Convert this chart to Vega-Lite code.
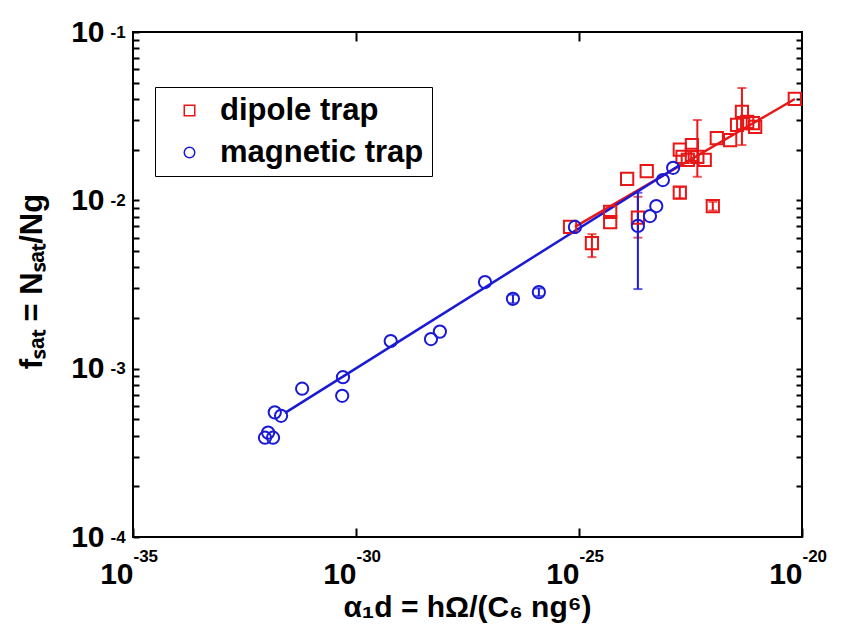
{
  "$schema": "https://vega.github.io/schema/vega-lite/v6.json",
  "width": 669,
  "height": 505,
  "autosize": "none",
  "padding": {"left": 133, "top": 32, "right": 40, "bottom": 99},
  "background": "white",
  "config": {
    "view": {"stroke": "black", "strokeWidth": 2},
    "font": "Liberation Sans",
    "axis": {
      "grid": false, "domain": false, "tickColor": "black", "tickWidth": 2,
      "labelFont": "Liberation Sans", "labelFontWeight": "bold", "labelFontSize": 30, "labelColor": "black",
      "titleFont": "Liberation Sans", "titleFontWeight": "bold", "titleFontSize": 30, "titleColor": "black",
      "labelFlush": false, "labelOverlap": false
    }
  },
  "datasets": {
    "pts": [
      {"trap": "dipole trap", "x": 6.3e-26, "y": 0.00695},
      {"trap": "dipole trap", "x": 1.95e-25, "y": 0.00557},
      {"trap": "dipole trap", "x": 5.0e-25, "y": 0.00853},
      {"trap": "dipole trap", "x": 5.0e-25, "y": 0.00743},
      {"trap": "dipole trap", "x": 1.2e-24, "y": 0.0134},
      {"trap": "dipole trap", "x": 3.3e-24, "y": 0.0149},
      {"trap": "dipole trap", "x": 2.09e-24, "y": 0.0079},
      {"trap": "dipole trap", "x": 1.82e-23, "y": 0.0111},
      {"trap": "dipole trap", "x": 1.82e-23, "y": 0.020},
      {"trap": "dipole trap", "x": 3.4e-23, "y": 0.0213},
      {"trap": "dipole trap", "x": 4.5e-23, "y": 0.0181},
      {"trap": "dipole trap", "x": 2.75e-23, "y": 0.0174},
      {"trap": "dipole trap", "x": 6.6e-23, "y": 0.0174},
      {"trap": "dipole trap", "x": 1.0e-22, "y": 0.00925},
      {"trap": "dipole trap", "x": 1.23e-22, "y": 0.0234},
      {"trap": "dipole trap", "x": 2.45e-22, "y": 0.0228},
      {"trap": "dipole trap", "x": 3.5e-22, "y": 0.0281},
      {"trap": "dipole trap", "x": 4.5e-22, "y": 0.0335},
      {"trap": "dipole trap", "x": 5.9e-22, "y": 0.0292},
      {"trap": "dipole trap", "x": 8.9e-22, "y": 0.0273},
      {"trap": "dipole trap", "x": 6.9e-21, "y": 0.040},
      {"trap": "dipole trap", "x": 3.4e-23, "y": 0.0186},
      {"trap": "dipole trap", "x": 2.1e-23, "y": 0.0181},
      {"trap": "dipole trap", "x": 4.8e-22, "y": 0.0288},
      {"trap": "dipole trap", "x": 7.9e-22, "y": 0.0288},
      {"trap": "magnetic trap", "x": 9.1e-33, "y": 0.000389},
      {"trap": "magnetic trap", "x": 1.38e-32, "y": 0.000389},
      {"trap": "magnetic trap", "x": 1.07e-32, "y": 0.000417},
      {"trap": "magnetic trap", "x": 1.51e-32, "y": 0.00055},
      {"trap": "magnetic trap", "x": 2.09e-32, "y": 0.000525},
      {"trap": "magnetic trap", "x": 6.2e-32, "y": 0.00076},
      {"trap": "magnetic trap", "x": 5.1e-31, "y": 0.00089},
      {"trap": "magnetic trap", "x": 4.9e-31, "y": 0.00069},
      {"trap": "magnetic trap", "x": 6.0e-30, "y": 0.00146},
      {"trap": "magnetic trap", "x": 4.8e-29, "y": 0.0015},
      {"trap": "magnetic trap", "x": 7.6e-29, "y": 0.00166},
      {"trap": "magnetic trap", "x": 7.8e-28, "y": 0.00327},
      {"trap": "magnetic trap", "x": 3.3e-27, "y": 0.0026},
      {"trap": "magnetic trap", "x": 1.26e-26, "y": 0.00285},
      {"trap": "magnetic trap", "x": 8.1e-26, "y": 0.00695},
      {"trap": "magnetic trap", "x": 2.09e-24, "y": 0.00705},
      {"trap": "magnetic trap", "x": 3.9e-24, "y": 0.00807},
      {"trap": "magnetic trap", "x": 5.4e-24, "y": 0.00925},
      {"trap": "magnetic trap", "x": 7.6e-24, "y": 0.0132},
      {"trap": "magnetic trap", "x": 1.29e-23, "y": 0.0156}
    ],
    "errs": [
      {"trap": "dipole trap", "x": 1.95e-25, "lo": 0.0046, "hi": 0.0063},
      {"trap": "dipole trap", "x": 2.09e-24, "lo": 0.0060, "hi": 0.0105},
      {"trap": "dipole trap", "x": 4.5e-23, "lo": 0.0138, "hi": 0.030},
      {"trap": "dipole trap", "x": 4.5e-22, "lo": 0.0213, "hi": 0.0465},
      {"trap": "dipole trap", "x": 1.82e-23, "lo": 0.0103, "hi": 0.012},
      {"trap": "dipole trap", "x": 1.0e-22, "lo": 0.0087, "hi": 0.0098},
      {"trap": "magnetic trap", "x": 3.3e-27, "lo": 0.00245, "hi": 0.00275},
      {"trap": "magnetic trap", "x": 1.26e-26, "lo": 0.0027, "hi": 0.003},
      {"trap": "magnetic trap", "x": 2.09e-24, "lo": 0.00297, "hi": 0.0111}
    ],
    "fits": [
      {"trap": "dipole trap", "x": 8.1e-26, "y": 0.00695},
      {"trap": "dipole trap", "x": 6.9e-21, "y": 0.040},
      {"trap": "magnetic trap", "x": 2.57e-32, "y": 0.000546},
      {"trap": "magnetic trap", "x": 1.82e-23, "y": 0.0162}
    ]
  },
  "layer": [
    {
      "data": {"name": "errs"},
      "transform": [{"filter": "datum.trap == 'dipole trap'"}],
      "mark": {"type": "errorbar", "color": "#e81616", "ticks": {"size": 9, "thickness": 2}, "rule": {"strokeWidth": 2}},
      "encoding": {
        "x": {"field": "x", "type": "quantitative", "scale": {"type": "log", "domain": [1e-35, 1e-20], "nice": false}, "axis": null},
        "y": {"field": "lo", "type": "quantitative", "scale": {"type": "log", "domain": [0.0001, 0.1], "nice": false}, "axis": null},
        "y2": {"field": "hi"}
      }
    },
    {
      "data": {"name": "errs"},
      "transform": [{"filter": "datum.trap == 'magnetic trap'"}],
      "mark": {"type": "errorbar", "color": "#1a1ad6", "ticks": {"size": 9, "thickness": 2}, "rule": {"strokeWidth": 2}},
      "encoding": {
        "x": {"field": "x", "type": "quantitative", "axis": null},
        "y": {"field": "lo", "type": "quantitative", "axis": null},
        "y2": {"field": "hi"}
      }
    },
    {
      "data": {"name": "fits"},
      "transform": [{"filter": "datum.trap == 'dipole trap'"}],
      "mark": {"type": "line", "strokeWidth": 2.5, "color": "#e81616"},
      "encoding": {
        "x": {"field": "x", "type": "quantitative",
          "axis": {"orient": "bottom", "values": [1e-35, 1e-30, 1e-25, 1e-20], "ticks": false, "tickSize": 0,
            "labelExpr": "datum.value < 1e-33 ? '-35' : datum.value < 1e-28 ? '-30' : datum.value < 1e-23 ? '-25' : '-20'",
            "labelFontSize": 17, "labelAlign": "left", "labelDx": 6, "labelPadding": 11, "title": null}},
        "y": {"field": "y", "type": "quantitative",
          "axis": {"orient": "left", "values": [0.0001, 0.001, 0.01, 0.1], "ticks": false, "tickSize": 0,
            "labelExpr": "datum.value < 0.0005 ? '-4' : datum.value < 0.005 ? '-3' : datum.value < 0.05 ? '-2' : '-1'",
            "labelFontSize": 17, "labelAlign": "left", "labelBaseline": "middle", "labelDy": -14, "labelPadding": 23, "title": null}}
      }
    },
    {
      "data": {"name": "fits"},
      "transform": [{"filter": "datum.trap == 'magnetic trap'"}],
      "mark": {"type": "line", "strokeWidth": 2.5, "color": "#1a1ad6"},
      "encoding": {
        "x": {"field": "x", "type": "quantitative", "axis": {"orient": "top", "values": [1e-30, 1e-25], "tickSize": -9, "labels": false, "title": null}},
        "y": {"field": "y", "type": "quantitative", "axis": {"orient": "right", "values": [0.0002, 0.0003, 0.0004, 0.0005, 0.0006, 0.0007, 0.0008, 0.0009, 0.001, 0.002, 0.003, 0.004, 0.005, 0.006, 0.007, 0.008, 0.009, 0.01, 0.02, 0.03, 0.04, 0.05, 0.06, 0.07, 0.08, 0.09], "tickSize": -6, "labels": false, "title": null}}
      }
    },
    {
      "data": {"name": "pts"},
      "mark": {"type": "point", "filled": false, "strokeWidth": 2, "size": 150, "opacity": 1},
      "encoding": {
        "x": {
          "field": "x", "type": "quantitative",
          "axis": {
            "orient": "bottom", "values": [1e-35, 1e-30, 1e-25, 1e-20],
            "labelExpr": "'10'", "labelAlign": "right", "labelDx": 3,
            "tickSize": -9, "labelPadding": 31,
            "title": "α₁d = hΩ/(C₆ ng⁶)", "titleX": 334, "titleY": 70, "titleBaseline": "middle", "titleAlign": "center"
          }
        },
        "y": {
          "field": "y", "type": "quantitative",
          "axis": {
            "orient": "left",
            "values": [0.0001, 0.0002, 0.0003, 0.0004, 0.0005, 0.0006, 0.0007, 0.0008, 0.0009, 0.001, 0.002, 0.003, 0.004, 0.005, 0.006, 0.007, 0.008, 0.009, 0.01, 0.02, 0.03, 0.04, 0.05, 0.06, 0.07, 0.08, 0.09, 0.1],
            "labelExpr": "abs(log(datum.value)/LN10 - round(log(datum.value)/LN10)) < 0.001 ? '10' : ''",
            "labelDy": 3, "tickSize": -6, "labelPadding": 35,
            "title": "fₛₐₜ = Nₛₐₜ/Ng", "titleFontSize": 31, "titleX": -101, "titleY": 249, "titleAngle": -90, "titleBaseline": "middle", "titleAlign": "center"
          }
        },
        "color": {"field": "trap", "type": "nominal", "scale": {"domain": ["dipole trap", "magnetic trap"], "range": ["#e81616", "#1a1ad6"]},
          "legend": {"title": null, "orient": "none", "legendX": 22, "legendY": 55, "strokeColor": "black", "fillColor": "white", "padding": 8,
            "labelFont": "Liberation Sans", "labelFontWeight": "bold", "labelFontSize": 31, "labelColor": "black", "labelLimit": 400,
            "symbolSize": 110, "symbolStrokeWidth": 1.5, "rowPadding": 10, "labelOffset": 15, "symbolOffset": 11}},
        "shape": {"field": "trap", "type": "nominal", "scale": {"domain": ["dipole trap", "magnetic trap"], "range": ["square", "circle"]},
          "legend": {"title": null, "orient": "none", "legendX": 22, "legendY": 55, "strokeColor": "black", "fillColor": "white", "padding": 8,
            "labelFont": "Liberation Sans", "labelFontWeight": "bold", "labelFontSize": 31, "labelColor": "black", "labelLimit": 400,
            "symbolSize": 110, "symbolStrokeWidth": 1.5, "rowPadding": 10, "labelOffset": 15, "symbolOffset": 11}}
      }
    }
  ],
  "resolve": {"axis": {"x": "independent", "y": "independent"}}
}
